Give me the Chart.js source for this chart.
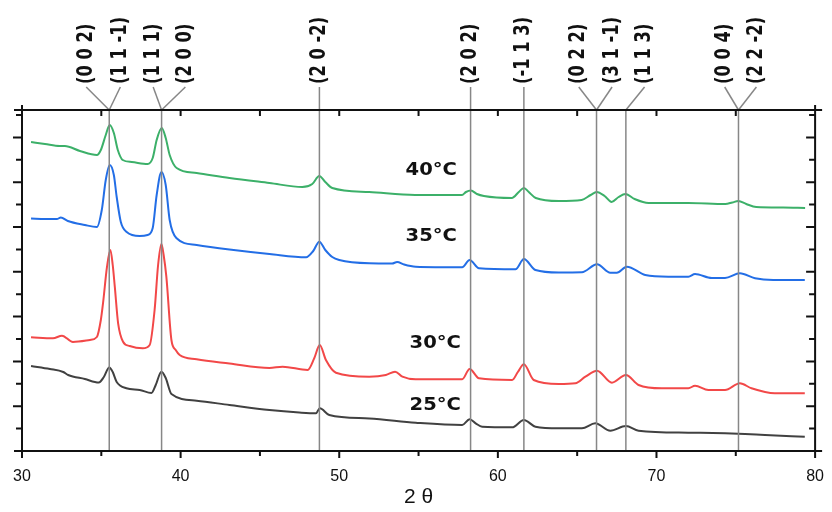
<!DOCTYPE html>
<html>
<head>
<meta charset="utf-8">
<script src="https://cdn.jsdelivr.net/npm/chart.js@4.4.1/dist/chart.umd.min.js"></script>
<style>
  html, body { margin: 0; padding: 0; background: #fff; }
  #wrap { width: 832px; height: 512px; }
</style>
</head>
<body>
<div id="wrap"><canvas id="xrd"></canvas></div>
<script>
// 2 theta (deg) and intensity (a.u., offset traces)
const t40 = [30.57,31.45,32.39,32.7,33.65,34.72,34.97,35.28,35.53,35.79,36.04,36.35,36.92,37.92,38.24,38.49,38.81,39.06,39.31,39.75,41.01,43.08,45.6,47.67,48.3,48.74,49.12,49.56,51.89,54.78,57.74,57.99,58.3,58.68,59.12,60.88,61.32,61.64,61.95,62.39,63.84,65.28,65.85,66.23,66.73,67.17,67.61,68.05,68.62,69.5,72.01,74.34,74.78,75.16,75.66,76.29,77.99,79.37]
const i40 = [309,307,305,305,300,296,301,316,326,318,301,291,289,287,293,311,323,313,296,283,278,273,268,264,267,275,269,263,259,256,256,259,260.5,257,255,253,259,263,259,253,250,251,256,259,255,249,254,257,252,248,248,247,248.5,250,247,244,243.5,243]

const t35 = [30.57,31.45,32.2,32.45,32.89,33.96,34.72,35.03,35.28,35.53,35.79,35.97,36.23,36.6,37.42,37.92,38.24,38.49,38.79,39.06,39.31,39.73,41.01,43.08,45.6,47.91,48.36,48.74,49.12,49.56,50,51.89,53.33,53.65,54.09,54.82,57.75,58.22,58.81,61.11,61.64,62.37,63.84,65.3,66.25,67.09,67.5,68.13,69.29,70.75,72.01,72.43,73.48,74.32,75.26,76.21,77.36,79.35]
const i35 = [232.5,232,232,233.5,230,226,224,241,271,286,276,254,229,219,215,216,223,256,279,266,231,213,206,201.5,197,193.7,200,209.3,201,194,191,187.7,187.5,189,186.5,184.3,183.7,191,182.7,181.7,192,181,178.5,178.7,186.7,178.3,178.3,184.3,176,174.3,174.3,177,173,173,177.7,172.7,171,171]

const t30 = [30.57,31.95,32.52,33.21,34.28,34.72,34.97,35.11,35.36,35.57,35.72,35.85,36.06,36.37,36.79,37.61,38.05,38.36,38.58,38.79,38.93,39.1,39.42,39.69,39.94,41.01,43.08,45.6,46.43,48.01,48.43,48.77,49.16,49.79,51.89,52.94,53.52,53.98,54.82,57.75,58.22,58.81,60.9,61.26,61.64,62.26,63.84,64.89,65.52,66.25,67.19,68.07,68.87,70.33,72.01,72.43,73.27,74.32,75.26,75.99,77.46,79.35]
const i30 = [113.7,112.7,115.3,109,111,114,131,148,184.3,201,186,164.3,127.7,109.3,105,102.7,106,141,186,207,196,174.3,111,101,96,91.7,87.5,83,84.3,81,93,106,91,78.3,74.3,76,79.3,74.3,71.7,71.7,82,72.7,71,79,86.7,71,67,67.7,74.3,80.3,68.3,76,66,62.7,62.7,65.3,61,61,67.7,62.7,57.7,57.7]

const t25 = [30.57,31.76,32.6,32.91,33.96,34.84,35.16,35.5,35.72,35.96,36.58,37.42,38.16,38.43,38.79,39.06,39.42,41.01,43.08,45.6,47.48,48.53,48.78,49.37,51.89,54.82,57.75,58.22,58.6,59.01,60.9,61.64,62.37,63.84,65.3,66.14,67.09,68.07,68.87,72.01,74.32,75.58,76.84,79.35]
const i25 = [85,82,79,76,72,68.5,74,83.5,79,69.3,62.7,61,58,66,79.3,73,57,50.3,46,41,38.5,37.7,42.7,36,32.5,28.3,26,31.7,27.7,24.3,23.7,31,24.3,22.7,22.7,27.7,20.3,25,20.3,18.3,17.7,17,16,14.3]

// reflections (hkl) and their 2 theta
const hklLabels = ['(0 0 2)','(1 1 -1)','(1 1 1)','(2 0 0)','(2 0 -2)','(2 0 2)','(-1 1 3)','(0 2 2)','(3 1 -1)','(1 1 3)','(0 0 4)','(2 2 -2)']
const hklPeaks = [35.5,35.5,38.8,38.8,48.75,58.28,61.64,66.22,66.22,68.07,75.17,75.17]

const temps = ['40°C','35°C','30°C','25°C']
const xTicks = [30,40,50,60,70,80]

const zip = (xs, ys) => xs.map((v, k) => ({ x: v, y: ys[k] }))

// where the hkl texts sit (2 theta of the text column)
const hklTextAt = [34.05,36.2,38.27,40.3,48.75,58.28,61.64,65.1,67.2,69.25,74.3,76.3]
// temperature captions: [2theta, intensity]
const tempAt = [[55.8,280],[55.8,214],[56.05,107],[56.05,45]]

const TICK = 22.4

const decor = {
  id: 'decor',
  afterDatasetsDraw(chart) {
    const { ctx, chartArea: a, scales: { x, y } } = chart
    ctx.save()

    // peak lines + leaders
    ctx.strokeStyle = 'rgb(135,135,135)'
    ctx.lineWidth = 1.5
    const drawn = {}
    hklPeaks.forEach((p, k) => {
      const px = x.getPixelForValue(p)
      if (!drawn[p]) {
        ctx.beginPath()
        ctx.moveTo(px, a.top)
        ctx.lineTo(px, a.bottom)
        ctx.stroke()
        drawn[p] = true
      }
      const lx = x.getPixelForValue(hklTextAt[k])
      ctx.beginPath()
      ctx.moveTo(lx, a.top - 23)
      ctx.lineTo(px, a.top)
      ctx.stroke()
    })

    // frame
    ctx.strokeStyle = '#111'
    ctx.lineWidth = 2
    ctx.beginPath()
    ctx.moveTo(a.left - 8, a.top); ctx.lineTo(a.right + 7, a.top)
    ctx.moveTo(a.left - 8, a.bottom); ctx.lineTo(a.right + 7, a.bottom)
    ctx.moveTo(a.left, a.top - 5); ctx.lineTo(a.left, a.bottom + 7)
    ctx.moveTo(a.right, a.top - 5); ctx.lineTo(a.right, a.bottom + 7)
    ctx.stroke()

    // y ticks: outward on the left, inward on the right
    ctx.beginPath()
    for (let k = 1; k * TICK < y.max - 3; k++) {
      const py = y.getPixelForValue(k * TICK)
      const len = k % 2 === 0 ? 9 : 6
      ctx.moveTo(a.left - len, py); ctx.lineTo(a.left, py)
      ctx.moveTo(a.right, py); ctx.lineTo(a.right - len, py)
    }
    // x ticks: outward at the bottom, inward at the top
    for (let v = 35; v < 80; v += 5) {
      const px = x.getPixelForValue(v)
      const len = v % 10 === 0 ? 7 : 5
      ctx.moveTo(px, a.bottom); ctx.lineTo(px, a.bottom + len)
      ctx.moveTo(px, a.top); ctx.lineTo(px, a.top + 6)
    }
    ctx.stroke()

    // hkl texts, rotated
    ctx.fillStyle = '#111'
    ctx.font = 'bold 17px "DejaVu Sans"'
    ctx.textBaseline = 'middle'
    ctx.textAlign = 'left'
    hklLabels.forEach((s, k) => {
      const lx = x.getPixelForValue(hklTextAt[k])
      ctx.save()
      ctx.translate(lx, a.top - 26)
      ctx.rotate(-Math.PI / 2)
      ctx.scale(0.96, 1.25)
      ctx.fillText(s, 0, 0)
      ctx.restore()
    })

    // temperature captions
    ctx.font = 'bold 17px "DejaVu Sans"'
    ctx.textAlign = 'center'
    temps.forEach((s, k) => {
      ctx.save()
      ctx.translate(x.getPixelForValue(tempAt[k][0]), y.getPixelForValue(tempAt[k][1]))
      ctx.scale(1.15, 1)
      ctx.fillText(s, 0, 0)
      ctx.restore()
    })
    ctx.restore()
  }
}

const line = (xs, ys, color) => ({
  data: zip(xs, ys),
  borderColor: color,
  borderWidth: 2,
  pointRadius: 0,
  fill: false,
  cubicInterpolationMode: 'monotone'
})

const chart = new Chart(document.getElementById('xrd'), {
  type: 'line',
  data: {
    datasets: [
      line(t40, i40, 'rgb(60,176,105)'),
      line(t35, i35, 'rgb(35,110,230)'),
      line(t30, i30, 'rgb(242,72,72)'),
      line(t25, i25, 'rgb(65,65,65)')
    ]
  },
  options: {
    responsive: true,
    maintainAspectRatio: false,
    animation: false,
    layout: { padding: { left: 22, right: 14, top: 110, bottom: 0 } },
    plugins: { legend: { display: false }, tooltip: { enabled: false } },
    scales: {
      x: {
        type: 'linear',
        min: 30,
        max: 80,
        grid: { display: false },
        border: { display: false },
        afterBuildTicks: (s) => { s.ticks = xTicks.map(v => ({ value: v })) },
        afterFit: (s) => { s.height = 61 },
        ticks: {
          padding: 8,
          maxRotation: 0,
          color: '#111',
          font: { family: '"Liberation Sans", Arial', size: 16 }
        },
        title: {
          display: true,
          text: '2 θ',
          color: '#111',
          padding: { top: 0, bottom: 2 },
          font: { family: '"Liberation Sans", Arial', size: 21 }
        }
      },
      y: { min: 0, max: 341, display: false }
    }
  },
  plugins: [decor]
})
</script>
</body>
</html>
